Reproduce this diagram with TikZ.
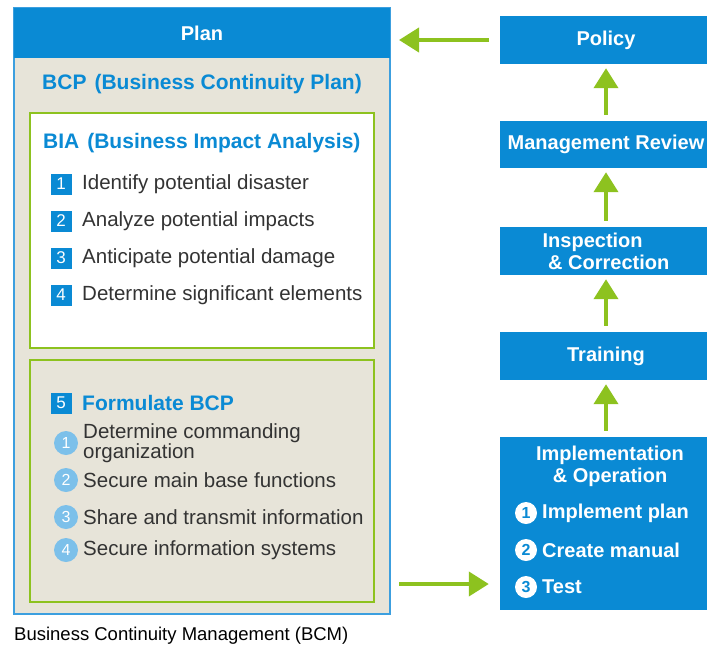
\documentclass[tikz,border=0pt]{standalone}
\usepackage{fontspec}
\setmainfont{Liberation Sans}
\usetikzlibrary{arrows.meta}

\definecolor{bcmblue}{HTML}{0A8AD4}
\definecolor{frameblue}{HTML}{3C9FDF}
\definecolor{bcmgreen}{HTML}{8DC21F}
\definecolor{bcmbeige}{HTML}{E7E4D9}
\definecolor{bcmsky}{HTML}{7CC0EA}
\definecolor{bcmtext}{HTML}{333333}

\begin{document}
\begin{tikzpicture}[x=1pt,y=-1pt,
  bluebox/.style={fill=bcmblue,minimum width=212pt,inner sep=0pt,text=white,
    font=\fontsize{20}{22}\selectfont\bfseries},
  whitetxt/.style={inner sep=0pt,text=white,font=\fontsize{20}{22}\selectfont\bfseries},
  txt/.style={anchor=west,inner sep=0pt,text=bcmtext,font=\fontsize{20.5}{20}\selectfont},
  head/.style={inner sep=0pt,text=bcmblue,font=\fontsize{21}{24}\selectfont\bfseries},
  numsq/.style={fill=bcmblue,minimum size=21pt,inner sep=0pt,text=white,font=\fontsize{17}{17}\selectfont},
  numci/.style={circle,fill=bcmsky,minimum size=24pt,inner sep=0pt,text=white,font=\fontsize{16}{16}\selectfont},
  numwh/.style={circle,fill=white,minimum size=22pt,inner sep=0pt,text=bcmblue,font=\fontsize{16}{16}\selectfont\bfseries},
  garrow/.style={draw=bcmgreen,line width=4pt,-{Triangle[length=20pt,width=24pt]}}]

\useasboundingbox (0,0) rectangle (707,646);

% plan side
\node[draw=frameblue,line width=2pt,fill=bcmbeige,minimum width=376pt,minimum height=606pt] (planbox) at (202,311) {};
\node[fill=bcmblue,minimum width=376pt,minimum height=50pt,inner sep=0pt,text=white,
  font=\fontsize{20}{22}\selectfont\bfseries] (plan) at (202,33) {Plan};
\node[head] (bcp) at (202,84) {BCP\hspace{8pt}(Business Continuity Plan)};

\node[draw=bcmgreen,line width=2pt,fill=white,minimum width=344pt,minimum height=235pt] (bia) at (202,230.5) {};
\node[head,anchor=west] (biatitle) at (43,143) {BIA\hspace{8pt}(Business Impact Analysis)};
\foreach \n/\t/\y in {1/Identify potential disaster/184,
                      2/Analyze potential impacts/221,
                      3/Anticipate potential damage/258,
                      4/Determine significant elements/295} {
  \node[numsq] (sq\n) at (61,\y) {\n};
  \node[txt] (bia\n) at (82,\y) {\t};
}

\node[draw=bcmgreen,line width=2pt,minimum width=344pt,minimum height=242pt] (formbox) at (202,481) {};
\node[numsq] (sq5) at (61,403) {5};
\node[head,anchor=west] (form) at (82,403) {Formulate BCP};
\node[numci] (ci1) at (66,443) {1};
\node[txt,align=left] (form1) at (83,443) {Determine commanding\\organization};
\foreach \n/\t/\y in {2/Secure main base functions/480,
                      3/Share and transmit information/517,
                      4/Secure information systems/550} {
  \node[numci] (ci\n) at (66,\y) {\n};
  \node[txt] (form\n) at (83,\y) {\t};
}

% cycle side
\node[bluebox,minimum height=48pt] (policy) at (606,40) {Policy};
\node[bluebox,minimum height=47pt] (review) at (606,144.5) {Management Review};
\node[bluebox,minimum height=48pt,align=left] (inspect) at (606,251) {Inspection\\\ \& Correction};
\node[bluebox,minimum height=48pt] (training) at (606,356) {Training};
\node[bluebox,minimum height=173pt] (impl) at (606,523.5) {};
\node[whitetxt,align=center] (impltitle) at (610,466) {Implementation\\\& Operation};
\foreach \n/\t/\y in {1/Implement plan/513,2/Create manual/550,3/Test/587} {
  \node[numwh] (wc\n) at (526,\y) {\n};
  \node[whitetxt,anchor=west] (op\n) at (542,\y) {\t};
}

\draw[garrow] ([xshift=-11pt]policy.west) -- ([xshift=8pt]planbox.east |- policy.west);
\draw[garrow] ([yshift=6pt]review.north) -- ([yshift=-4pt]policy.south);
\draw[garrow] ([yshift=6pt]inspect.north) -- ([yshift=-4pt]review.south);
\draw[garrow] ([yshift=6pt]training.north) -- ([yshift=-4pt]inspect.south);
\draw[garrow] ([yshift=6pt]impl.north) -- ([yshift=-4pt]training.south);
\draw[garrow] ([xshift=8pt,yshift=3pt]planbox.east |- op3) -- ([xshift=-11pt,yshift=3pt]impl.west |- op3);

\node[anchor=west,inner sep=0pt,font=\fontsize{18.5}{20}\selectfont] (caption) at (14,636) {Business Continuity Management (BCM)};

\end{tikzpicture}
\end{document}
